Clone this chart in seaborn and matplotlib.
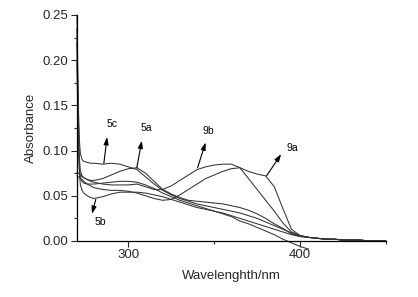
import numpy as np
import pandas as pd
import matplotlib
matplotlib.use("Agg")
import matplotlib.pyplot as plt
import matplotlib.ticker as mticker
import seaborn as sns

# ── Data ────────────────────────────────────────────────────────────────────
wavelength = [270, 270.5, 271, 271.5, 272, 273, 274, 276, 278, 280,
              285, 290, 295, 300, 305, 310, 315, 320, 325, 330,
              335, 340, 345, 350, 355, 360, 365, 370, 375, 380,
              385, 390, 395, 400, 405, 410, 415, 420, 425, 430,
              435, 440, 445, 450]

abs_5c = [0.250, 0.190, 0.140, 0.110, 0.097, 0.090, 0.088, 0.087, 0.086, 0.086,
          0.085, 0.086, 0.085, 0.082, 0.079, 0.071, 0.063, 0.056, 0.051, 0.047,
          0.044, 0.041, 0.039, 0.037, 0.035, 0.033, 0.031, 0.028, 0.025, 0.021,
          0.017, 0.013, 0.009, 0.006, 0.004, 0.003, 0.002, 0.002, 0.001, 0.001,
          0.001, 0.000, 0.000, 0.000]
abs_5a = [0.235, 0.170, 0.120, 0.090, 0.078, 0.072, 0.070, 0.068, 0.067, 0.067,
          0.069, 0.073, 0.077, 0.080, 0.081, 0.075, 0.066, 0.057, 0.052, 0.048,
          0.045, 0.044, 0.043, 0.042, 0.041, 0.039, 0.037, 0.034, 0.030, 0.025,
          0.019, 0.014, 0.008, 0.005, 0.004, 0.003, 0.002, 0.002, 0.001, 0.001,
          0.001, 0.000, 0.000, 0.000]
abs_5b = [0.220, 0.150, 0.100, 0.075, 0.062, 0.056, 0.053, 0.050, 0.048, 0.047,
          0.049, 0.052, 0.054, 0.054, 0.054, 0.053, 0.051, 0.049, 0.046, 0.043,
          0.040, 0.037, 0.035, 0.033, 0.031, 0.028, 0.025, 0.022, 0.019, 0.016,
          0.013, 0.010, 0.007, 0.005, 0.004, 0.003, 0.002, 0.002, 0.001, 0.001,
          0.001, 0.000, 0.000, 0.000]
abs_5x = [0.200, 0.140, 0.100, 0.080, 0.070, 0.066, 0.064, 0.063, 0.063, 0.063,
          0.064, 0.065, 0.066, 0.066, 0.065, 0.062, 0.058, 0.053, 0.049, 0.045,
          0.042, 0.039, 0.036, 0.033, 0.030, 0.027, 0.022, 0.019, 0.015, 0.011,
          0.007, 0.002, -0.002, -0.006, -0.009, np.nan, np.nan, np.nan, np.nan, np.nan,
          np.nan, np.nan, np.nan, np.nan]
abs_9b = [0.076, 0.075, 0.075, 0.074, 0.073, 0.071, 0.070, 0.068, 0.066, 0.065,
          0.063, 0.062, 0.062, 0.062, 0.063, 0.060, 0.057, 0.057, 0.061, 0.067,
          0.073, 0.079, 0.082, 0.084, 0.085, 0.085, 0.081, 0.069, 0.057, 0.045,
          0.033, 0.020, 0.010, 0.006, 0.004, 0.003, 0.002, 0.002, 0.001, 0.001,
          0.001, 0.000, 0.000, 0.000]
abs_9a = [0.072, 0.071, 0.071, 0.070, 0.069, 0.068, 0.066, 0.063, 0.061, 0.059,
          0.057, 0.056, 0.056, 0.055, 0.053, 0.050, 0.047, 0.045, 0.046, 0.051,
          0.057, 0.063, 0.069, 0.073, 0.077, 0.080, 0.081, 0.077, 0.074, 0.072,
          0.060, 0.036, 0.013, 0.006, 0.004, 0.003, 0.002, 0.002, 0.001, 0.001,
          0.001, 0.000, 0.000, 0.000]

series = {"5c": abs_5c, "5a": abs_5a, "5b": abs_5b, "5x": abs_5x,
          "9b": abs_9b, "9a": abs_9a}

# label text, label position, arrow tail (on curve), arrow head
labels   = ["5c", "5a", "9b", "9a", "5b"]
label_xy = [(290.3, 0.129), (310.7, 0.125), (346.7, 0.122), (395.5, 0.103), (283.5, 0.021)]
tail_xy  = [(285.7, 0.086), (304.9, 0.081), (340.3, 0.081), (380.5, 0.072), (281.0, 0.046)]
head_xy  = [(287.6, 0.115), (307.8, 0.111), (345.0, 0.109), (389.0, 0.096), (278.8, 0.030)]

df = pd.DataFrame({"wavelength": wavelength, **series}).melt(
    id_vars="wavelength", var_name="sample", value_name="absorbance")

# ── Style ───────────────────────────────────────────────────────────────────
sns.set_theme(style="ticks")
plt.rcParams["font.family"] = ["Liberation Sans", "DejaVu Sans"]

fig = plt.figure(figsize=(4.18, 2.97), dpi=100)
ax = fig.add_axes([0.184, 0.1886, 0.739, 0.7609])

sns.lineplot(data=df, x="wavelength", y="absorbance", units="sample",
             estimator=None, color="#333333", linewidth=0.75, ax=ax,
             sort=False, legend=False)
for line in ax.get_lines():
    line.set_clip_on(False)

for text, lxy, txy, hxy in zip(labels, label_xy, tail_xy, head_xy):
    ax.annotate("", xy=hxy, xytext=txy,
                arrowprops=dict(arrowstyle="-|>,head_length=0.55,head_width=0.18",
                                color="black", lw=0.8,
                                mutation_scale=8, shrinkA=0, shrinkB=0))
    ax.text(*lxy, text, ha="center", va="center", fontsize=7.5, color="black")

ax.set_xlim(270, 450)
ax.set_ylim(0, 0.25)
ax.xaxis.set_major_locator(mticker.FixedLocator([300, 400]))
ax.xaxis.set_minor_locator(mticker.FixedLocator([350, 450]))
ax.yaxis.set_major_locator(mticker.MultipleLocator(0.05))
ax.yaxis.set_minor_locator(mticker.MultipleLocator(0.025))
ax.yaxis.set_major_formatter(mticker.FormatStrFormatter("%.2f"))
ax.tick_params(which="major", length=4, width=0.8, labelsize=9.5, pad=2)
ax.tick_params(which="minor", length=2.5, width=0.8)
ax.set_xlabel("Wavelenghth/nm", fontsize=9.5, labelpad=6)
ax.set_ylabel("Absorbance", fontsize=9.5, labelpad=4)
sns.despine(ax=ax)
for s in ("left", "bottom"):
    ax.spines[s].set_linewidth(0.9)
    ax.spines[s].set_color("black")

fig.savefig("out.png", dpi=100)
plt.close(fig)
